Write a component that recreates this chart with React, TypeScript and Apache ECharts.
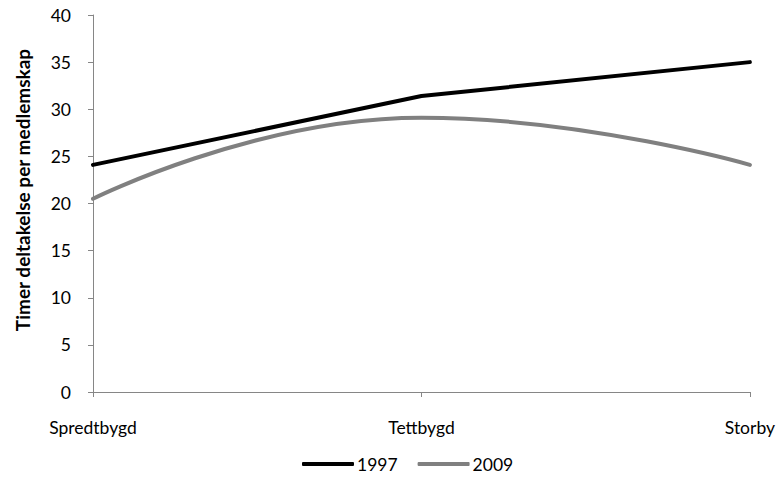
import React, { useEffect, useRef } from "react";
import * as echarts from "echarts";

const categories = ["Spredtbygd", "Tettbygd", "Storby"];
const series1997 = [24.1, 31.4, 35.0];
const series2009 = [20.5, 29.1, 24.1];
const yTicks = { min: 0, max: 40, interval: 5 };
const yTitle = "Timer deltakelse per medlemskap";

const FONT = "Lato, 'Open Sans', sans-serif";
const FS = 17.5;

export default function App() {
  const ref = useRef<HTMLDivElement>(null);
  useEffect(() => {
    if (!ref.current) return;
    const chart = echarts.init(ref.current, null, { renderer: "svg" });
    chart.setOption({
      animation: false,
      backgroundColor: "#ffffff",
      textStyle: { fontFamily: FONT },
      grid: { left: 93, right: 26, top: 15, bottom: 85, containLabel: false },
      legend: {
        top: 453,
        left: 300,
        padding: 2,
        itemWidth: 52,
        itemHeight: 4,
        itemGap: 20,
        textStyle: { fontFamily: FONT, fontSize: FS, color: "#000", padding: [0, 0, 0, -2] },
        data: [
          { name: "1997", icon: "roundRect", itemStyle: { color: "#000000" } },
          { name: "2009", icon: "roundRect", itemStyle: { color: "#808080" } },
        ],
      },
      graphic: [
        {
          type: "text",
          x: 22,
          y: 190,
          rotation: Math.PI / 2,
          style: {
            text: yTitle,
            fontFamily: FONT,
            fontSize: 19,
            fontWeight: "bold",
            fill: "#000",
            textAlign: "center",
            textVerticalAlign: "middle",
          },
        },
      ],
      xAxis: {
        type: "category",
        data: categories,
        boundaryGap: false,
        axisLine: { lineStyle: { color: "#868686", width: 1 } },
        axisTick: { show: true, length: 5, lineStyle: { color: "#868686" } },
        axisLabel: { color: "#000", fontSize: FS, fontFamily: FONT, margin: 26 },
        splitLine: { show: false },
      },
      yAxis: {
        type: "value",
        min: yTicks.min,
        max: yTicks.max,
        interval: yTicks.interval,
        axisLine: { show: true, lineStyle: { color: "#868686", width: 1 } },
        axisTick: { show: true, length: 5, lineStyle: { color: "#868686" } },
        axisLabel: { color: "#000", fontSize: FS, fontFamily: FONT, margin: 22 },
        splitLine: { show: false },
      },
      series: [
        {
          name: "1997",
          type: "line",
          data: series1997,
          symbol: "none",
          lineStyle: { color: "#000000", width: 4, cap: "round", join: "round" },
          itemStyle: { color: "#000000" },
        },
        {
          name: "2009",
          type: "line",
          data: series2009,
          symbol: "none",
          smooth: 0.5,
          lineStyle: { color: "#808080", width: 4, cap: "round", join: "round" },
          itemStyle: { color: "#808080" },
        },
      ],
    });
    return () => chart.dispose();
  }, []);
  return (
    <div
      ref={ref}
      style={{ position: "fixed", left: 0, top: 0, width: 778, height: 477 }}
    />
  );
}
